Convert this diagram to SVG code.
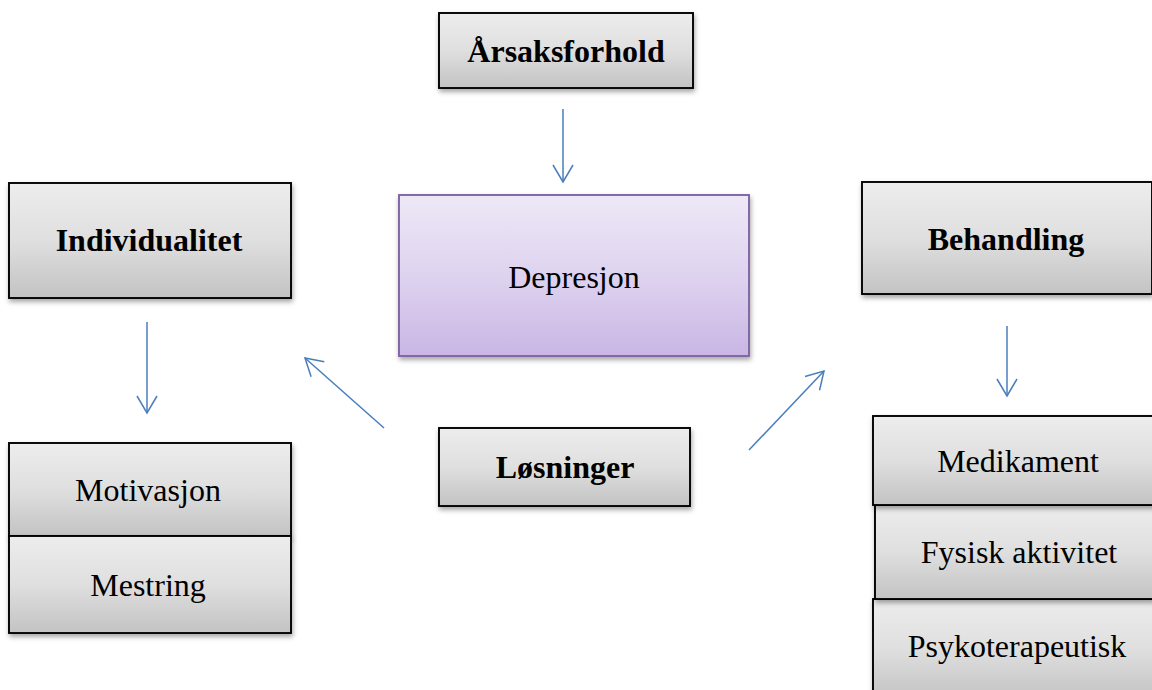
<svg xmlns="http://www.w3.org/2000/svg" width="1152" height="690" viewBox="0 0 1152 690">
<style>
.box{fill:url(#gray);stroke:#000;stroke-width:1.9;filter:url(#sh)}
.pbox{fill:url(#purple);stroke:#8064A2;stroke-width:1.9;filter:url(#sh)}
.t{font-family:"Liberation Serif","Times New Roman",serif;font-size:32px;fill:#000;text-anchor:middle}
.b{font-weight:bold}
.c{stroke:#4A7EBB;stroke-width:1.5;fill:none;marker-end:url(#ah)}
</style>
<defs>
<linearGradient id="gray" x1="0" y1="0" x2="0" y2="1">
<stop offset="0" stop-color="#EDEDED"/><stop offset="0.5" stop-color="#DFDFDF"/><stop offset="1" stop-color="#C3C3C3"/>
</linearGradient>
<linearGradient id="purple" x1="0" y1="0" x2="0" y2="1">
<stop offset="0" stop-color="#EEE8F6"/><stop offset="0.5" stop-color="#DED3EF"/><stop offset="1" stop-color="#C9B6E4"/>
</linearGradient>
<filter id="sh" x="-5%" y="-5%" width="115%" height="120%">
<feDropShadow dx="1" dy="3" stdDeviation="2.5" flood-color="#000" flood-opacity="0.35"/>
</filter>
<marker id="ah" viewBox="0 0 20 24" refX="18" refY="12" markerWidth="20" markerHeight="24" markerUnits="userSpaceOnUse" orient="auto">
<path d="M1,2 L18,12 L1,22" fill="none" stroke="#4A7EBB" stroke-width="1.5"/>
</marker>
</defs>
<g id="connectors">
<line class="c" x1="563" y1="109" x2="563" y2="182"/>
<line class="c" x1="147" y1="322" x2="147" y2="413"/>
<line class="c" x1="1007" y1="326" x2="1007" y2="396"/>
<line class="c" x1="384" y1="428" x2="305" y2="358"/>
<line class="c" x1="749" y1="450" x2="824" y2="371"/>
</g>
<g id="arsaksforhold"><rect class="box" x="439" y="13" width="254" height="75"/><text class="t b" x="566" y="62">Årsaksforhold</text></g>
<g id="depresjon"><rect class="pbox" x="399" y="195" width="350" height="161"/><text class="t" x="574" y="288">Depresjon</text></g>
<g id="individualitet"><rect class="box" x="9" y="183" width="282" height="115"/><text class="t b" x="149" y="251">Individualitet</text></g>
<g id="behandling"><rect class="box" x="862" y="182" width="290" height="112"/><text class="t b" x="1006" y="250">Behandling</text></g>
<g id="losninger"><rect class="box" x="439" y="428" width="251" height="78"/><text class="t b" x="565" y="478">Løsninger</text></g>
<g id="motivasjon"><rect class="box" x="9" y="443" width="282" height="93"/><text class="t" x="148" y="501">Motivasjon</text></g>
<g id="mestring"><rect class="box" x="9" y="536" width="282" height="97"/><text class="t" x="148" y="596">Mestring</text></g>
<g id="psykoterapeutisk"><rect class="box" x="873" y="599" width="282" height="100"/><text class="t" x="1017" y="657">Psykoterapeutisk</text></g>
<g id="fysisk"><rect class="box" x="875" y="505" width="280" height="94"/><text class="t" x="1019" y="563">Fysisk aktivitet</text></g>
<g id="medikament"><rect class="box" x="873" y="416" width="282" height="89"/><text class="t" x="1018" y="472">Medikament</text></g>
</svg>
